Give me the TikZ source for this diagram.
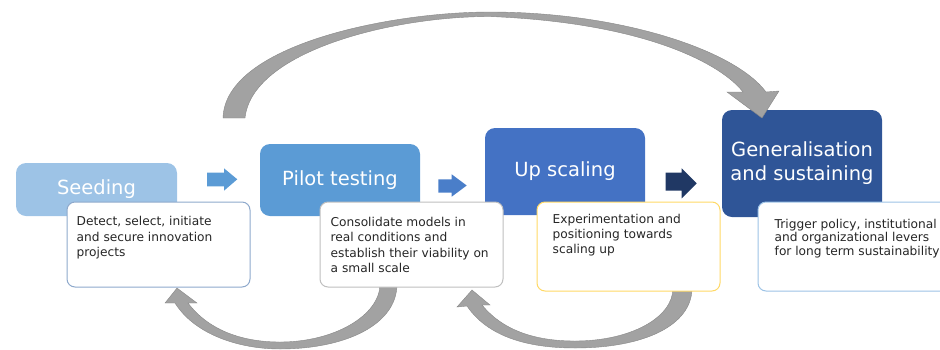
\documentclass[tikz,border=0pt]{standalone}
\usepackage{fontspec}
\setmainfont{DejaVu Sans}
\definecolor{cSeed}{HTML}{9DC3E6}
\definecolor{cPilot}{HTML}{5B9BD5}
\definecolor{cUp}{HTML}{4472C4}
\definecolor{cGen}{HTML}{2F5597}
\definecolor{cArrA}{HTML}{5B9BD5}
\definecolor{cArrB}{HTML}{4A7EC9}
\definecolor{cArrC}{HTML}{203864}
\definecolor{cGray}{HTML}{A2A2A2}
\definecolor{cGrayEdge}{HTML}{878787}
\definecolor{bOne}{HTML}{8EA9CC}
\definecolor{bTwo}{HTML}{BFBFBF}
\definecolor{bThree}{HTML}{FFD966}
\definecolor{bFour}{HTML}{9DC3E6}
\definecolor{cText}{HTML}{262626}
\begin{document}
\begin{tikzpicture}[x=1pt,y=-1pt,
  titlebox/.style={rounded corners=10pt, inner sep=0pt, text=white, align=center,
    font=\fontsize{19.5}{24}\selectfont},
  descbox/.style={draw, line width=1pt, fill=white, rounded corners=8pt, inner sep=0pt},
  desctext/.style={anchor=north west, inner sep=0pt, align=left, text=cText,
    font=\fontsize{12.2}{15.5}\selectfont},
  grayarrow/.style={fill=cGray, draw=cGrayEdge, line width=0.4pt},
  blockarrow/.style={draw=none}]
\useasboundingbox (0,0) rectangle (940,349);

% title boxes
\node[titlebox, fill=cSeed, minimum width=161pt, minimum height=53pt] (seed) at (96.5,189.5) {Seeding};
\node[titlebox, fill=cPilot, minimum width=160pt, minimum height=72pt] (pilot) at (340,180) {Pilot testing};
\node[titlebox, fill=cUp, minimum width=160pt, minimum height=87pt] (up) at (565,171.5) {Up scaling};
\node[titlebox, fill=cGen, minimum width=160pt, minimum height=107pt] (gen) at (802,163.5) {Generalisation\\and sustaining};

% block arrows between steps
\coordinate (a1) at (207,179.3);
\fill[cArrA] (a1) ++(0,-6.6) -- ++(17,0) -- ++(0,-4.4) -- (237.3,179.3) -- (224,190.7) -- ++(0,-4.4) -- ++(-17,0) -- cycle;
\coordinate (a2) at (438.3,186);
\fill[cArrB] (a2) ++(0,-6.7) -- ++(13.4,0) -- ++(0,-5) -- (466.7,185.5) -- (451.7,196.7) -- ++(0,-4) -- ++(-13.4,0) -- cycle;
\coordinate (a3) at (665.7,181.7);
\fill[cArrC] (a3) ++(0,-9) -- ++(16,0) -- ++(0,-4.4) -- (696.7,183.3) -- (681.7,198.3) -- ++(0,-7.6) -- ++(-16,0) -- cycle;

% bottom return arrows
\filldraw[grayarrow] (175,303) .. controls (195,335) and (240,349) .. (280,349)
  .. controls (345,349) and (397,325) .. (397,284) -- (380,284)
  .. controls (380,315) and (335,342) .. (280,342)
  .. controls (245,342) and (210,332) .. (188,303)
  -- (197,303) -- (177,288) -- (165,303) -- cycle;
\filldraw[grayarrow] (467,306) .. controls (490,340) and (535,348) .. (575,348)
  .. controls (645,348) and (692,325) .. (692,288) -- (673,288)
  .. controls (673,318) and (630,341) .. (575,341)
  .. controls (540,341) and (505,333) .. (482,305)
  -- (490,305) -- (472,290) -- (457,307) -- cycle;

% description boxes
\node[descbox, draw=bOne, minimum width=183pt, minimum height=85pt] (d1) at (158.5,244.5) {};
\node[descbox, draw=bTwo, minimum width=183pt, minimum height=85pt] (d2) at (411.5,244.5) {};
\node[descbox, draw=bThree, minimum width=183pt, minimum height=89pt] (d3) at (628.5,246.5) {};
\node[descbox, draw=bFour, minimum width=202pt, minimum height=89pt] (d4) at (859,246.5) {};

\node[desctext] (t1) at ([shift={(10,15)}]d1.north west) {Detect, select, initiate\\and secure innovation\\projects};
\node[desctext] (t2) at ([shift={(11,15.5)}]d2.north west) {Consolidate models in\\real conditions and\\establish their viability on\\a small scale};
\node[desctext, font=\fontsize{12.2}{15}\selectfont] (t3) at ([shift={(16,13)}]d3.north west) {Experimentation and\\positioning towards\\scaling up};
\node[desctext, font=\fontsize{12.2}{13.5}\selectfont] (t4) at ([shift={(17,17.5)}]d4.north west) {Trigger policy, institutional\\and organizational levers\\for long term sustainability};

% top arrow from pilot stage over to generalisation
\filldraw[grayarrow] (223,118) .. controls (225,45) and (390,12) .. (490,12)
  .. controls (620,12) and (735,50) .. (766,92) -- (779,91) -- (762,118) -- (727,92) -- (743,92)
  .. controls (723,66) and (650,23) .. (490,16.5)
  .. controls (390,16.5) and (252,52) .. (245,118) -- cycle;
\end{tikzpicture}
\end{document}
